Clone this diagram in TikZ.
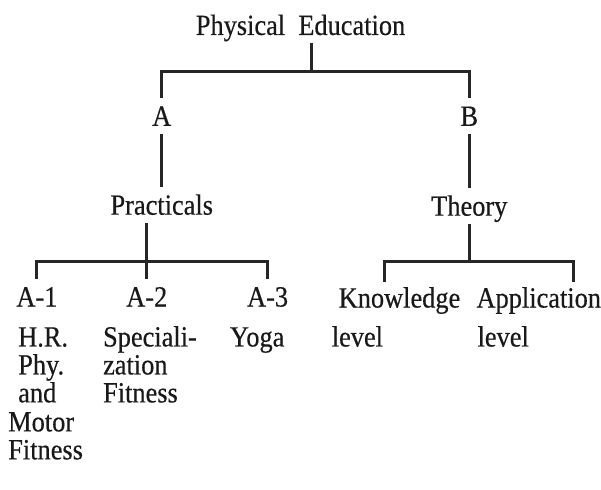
\documentclass[tikz,border=0pt]{standalone}
\usepackage{fontspec}
\setmainfont[FakeStretch=0.9, FakeBold=0.4]{Liberation Serif}
\begin{document}
\begin{tikzpicture}[x=0.75pt, y=-0.75pt,
    lbl/.style={font=\fontsize{22}{26}\selectfont, text=black!90, inner xsep=0pt, inner ysep=6pt, text height=14.6pt, text depth=0pt, anchor=base},
    lft/.style={lbl, anchor=base west},
    wire/.style={line width=2.2pt, draw=black!85}]
    \fill[white] (0, 0) rectangle (601, 490);
    \node[lbl] (pe) at (301, 35) {Physical\ \ Education};
    \node[lbl] (a) at (162, 126) {A};
    \node[lbl] (b) at (470, 126) {B};
    \node[lbl] (prac) at (162, 215) {Practicals};
    \node[lbl] (theo) at (470, 216) {Theory};
    \node[lbl] (a1) at (37, 307) {A-1};
    \node[lbl] (a2) at (147, 307) {A-2};
    \node[lbl] (a3) at (268, 307) {A-3};
    \node[lft] (hr) at (18, 347) {H.R.};
    \node[lft] (phy) at (18, 375) {Phy.};
    \node[lft] (and) at (18, 403) {and};
    \node[lft] (motor) at (8, 432) {Motor};
    \node[lft] (fit1) at (8, 460) {Fitness};
    \node[lft] (spec) at (103, 347) {Speciali-};
    \node[lft] (zat) at (103, 375) {zation};
    \node[lft] (fit2) at (103, 403) {Fitness};
    \node[lft] (yoga) at (230, 347) {Yoga};
    \node[lft] (kn) at (339, 308) {Knowledge};
    \node[lft] (knl) at (332, 347) {level};
    \node[lft] (ap) at (477, 308) {Application};
    \node[lft] (apl) at (478, 347) {level};
    \coordinate (j0) at (312, 72);
    \coordinate (j1) at (148, 262);
    \coordinate (j2) at (470, 262);
    \coordinate (kd) at (385, 282);
    \coordinate (ad) at (574, 282);
    \draw[wire] (pe.south -| j0) -- (j0);
    \draw[wire] (a) |- (j0) -| (b);
    \draw[wire] (a) -- (prac);
    \draw[wire] (b) -- (theo);
    \draw[wire] (prac.south -| a2) -- (a2);
    \draw[wire] (a1) |- (j1) -| (a3);
    \draw[wire] (theo) -- (j2);
    \draw[wire] (kd) |- (j2) -| (ad);
\end{tikzpicture}
\end{document}
